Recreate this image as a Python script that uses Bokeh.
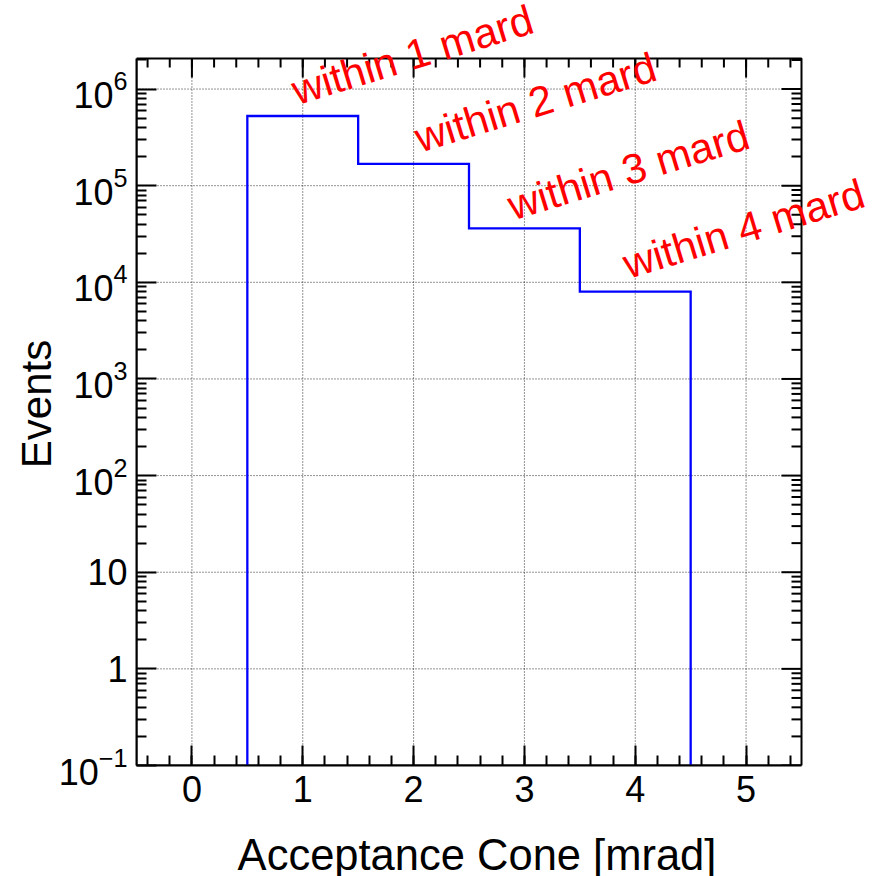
import math
import numpy as np
from bokeh.plotting import figure
from bokeh.models import (FixedTicker, Range1d, LabelSet, Label, ColumnDataSource,
                          LogTickFormatter)
from bokeh.core.properties import value
from bokeh.embed import file_html
from bokeh.resources import INLINE

# ---------------- data ----------------
bin_edges = [0.5, 1.5, 2.5, 3.5, 4.5]
bin_counts = [5.26e5, 1.68e5, 3.61e4, 8.0e3]

note_texts = ["within 1 mard", "within 2 mard", "within 3 mard", "within 4 mard"]
note_x = [0.95, 2.06, 2.90, 3.94]
note_y = [6.8e5, 2.19e5, 4.35e4, 1.08e4]

x_tick_values = [0, 1, 2, 3, 4, 5]
x_tick_labels = ["0", "1", "2", "3", "4", "5"]
y_tick_values = [0.1, 1, 10, 100, 1e3, 1e4, 1e5, 1e6]
y_plain_labels = {1: "1", 10: "10"}

x_title = "Acceptance Cone [mrad]"
y_title = "Events"

X_MIN, X_MAX = -0.5, 5.5
Y_MIN, Y_MAX = 0.1, 2.07e6

FONT = "Liberation Sans"

# ---------------- layout (pixels) ----------------
W, H = 879, 876
FR_LEFT, FR_RIGHT, FR_TOP, FR_BOTTOM = 136, 801, 58, 765
# the drawing area extends to the top/right canvas edges so that the
# rotated notes may run past the histogram frame, like in the original
vx_end = X_MIN + (X_MAX - X_MIN) * (W - FR_LEFT) / (FR_RIGHT - FR_LEFT)
ly0, ly1 = math.log10(Y_MIN), math.log10(Y_MAX)
vy_end = 10 ** (ly0 + (ly1 - ly0) * FR_BOTTOM / (FR_BOTTOM - FR_TOP))

# ---------------- histogram outline ----------------
hx = [bin_edges[0]]
hy = [Y_MIN]
for i, c in enumerate(bin_counts):
    hx += [bin_edges[i], bin_edges[i + 1]]
    hy += [c, c]
hx.append(bin_edges[-1])
hy.append(Y_MIN)

p = figure(width=W, height=H,
           x_range=Range1d(X_MIN, vx_end), y_range=Range1d(Y_MIN, vy_end),
           y_axis_type="log", output_backend="svg", toolbar_location=None,
           min_border_left=FR_LEFT, min_border_right=0,
           min_border_top=0, min_border_bottom=H - FR_BOTTOM)
p.background_fill_color = "white"
p.border_fill_color = "white"
p.outline_line_color = None
p.xgrid.visible = False
p.ygrid.visible = False

x_minor = [round(v, 1) for v in np.arange(-0.4, 5.45, 0.2)]
y_minor = [m * 10.0 ** e for e in range(-1, 7) for m in range(2, 10) if m * 10.0 ** e <= Y_MAX]
xt = FixedTicker(ticks=x_tick_values, minor_ticks=x_minor)
yt = FixedTicker(ticks=y_tick_values, minor_ticks=y_minor)

xax = p.below[0]
yax = p.left[0]


def style_axis(ax):
    ax.axis_line_color = "black"
    ax.axis_line_width = 2
    ax.major_tick_line_color = "black"
    ax.minor_tick_line_color = "black"
    ax.major_tick_line_width = 2
    ax.minor_tick_line_width = 2
    ax.major_tick_in = 20
    ax.major_tick_out = 0
    ax.minor_tick_in = 10
    ax.minor_tick_out = 0
    ax.major_label_text_font = FONT
    ax.major_label_text_font_size = "36px"
    ax.major_label_text_color = "black"


style_axis(xax)
xax.ticker = xt
xax.bounds = (X_MIN, X_MAX)
xax.major_label_overrides = {v: t for v, t in zip(x_tick_values, x_tick_labels)}
xax.major_label_standoff = 10

style_axis(yax)
yax.ticker = yt
yax.bounds = (Y_MIN, Y_MAX)
yax.formatter = LogTickFormatter()
yax.major_label_overrides = y_plain_labels
yax.major_label_standoff = 9

# axis titles, centred on the histogram frame (placed in the side panels)
p.add_layout(Label(x=(X_MIN + X_MAX) / 2, y=Y_MIN, text=x_title,
                   x_offset=8, y_offset=-89,
                   text_align="center", text_baseline="alphabetic",
                   text_font=FONT, text_font_size="43.5px", text_color="black"),
             "below")
p.add_layout(Label(x=X_MIN, y=10 ** ((ly0 + ly1) / 2), text=y_title,
                   x_offset=-100, y_offset=8,
                   angle=90, angle_units="deg",
                   text_align="center", text_baseline="alphabetic",
                   text_font=FONT, text_font_size="42px", text_color="black"),
             "left")

# dotted grid inside the histogram frame
grid_kw = dict(line_color="black", line_width=1, line_dash="1 2", line_alpha=0.85)
p.segment(x0=x_tick_values, x1=x_tick_values,
          y0=[Y_MIN] * len(x_tick_values), y1=[Y_MAX] * len(x_tick_values), **grid_kw)
p.segment(x0=[X_MIN] * len(y_tick_values), x1=[X_MAX] * len(y_tick_values),
          y0=y_tick_values, y1=y_tick_values, **grid_kw)

# frame box
p.quad(left=[X_MIN], right=[X_MAX], bottom=[Y_MIN], top=[Y_MAX],
       fill_color=None, line_color="black", line_width=2)

# mirrored ticks on the top and right frame edges
p.ray(x=x_tick_values, y=[Y_MAX] * len(x_tick_values), length=19, length_units="screen",
      angle=-90, angle_units="deg", line_color="black", line_width=2)
p.ray(x=x_minor, y=[Y_MAX] * len(x_minor), length=9, length_units="screen",
      angle=-90, angle_units="deg", line_color="black", line_width=2)
p.ray(x=[X_MAX] * len(y_tick_values), y=y_tick_values, length=20, length_units="screen",
      angle=180, angle_units="deg", line_color="black", line_width=2)
p.ray(x=[X_MAX] * len(y_minor), y=y_minor, length=10, length_units="screen",
      angle=180, angle_units="deg", line_color="black", line_width=2)

# histogram
p.line(hx, hy, line_color="#0000ff", line_width=2.3, line_join="miter")

# annotations
note_src = ColumnDataSource(dict(x=note_x, y=note_y, text=note_texts))
p.add_layout(LabelSet(x="x", y="y", text="text", source=note_src,
                      angle=17, angle_units="deg",
                      text_align="left", text_baseline="alphabetic",
                      text_font=value(FONT), text_font_size="42px",
                      text_color="#ff0000"))

open("out.html", "w").write(file_html(p, INLINE))
